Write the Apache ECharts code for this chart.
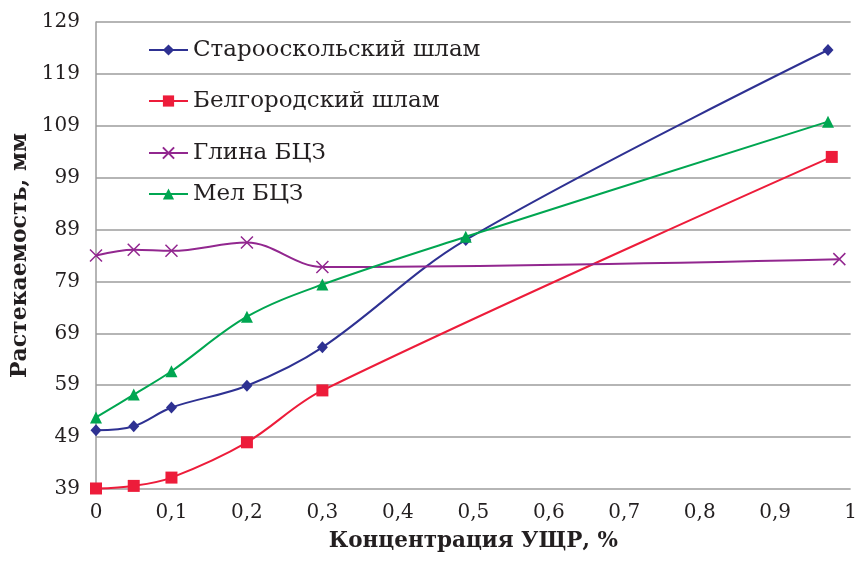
<!DOCTYPE html>
<html>
<head>
<meta charset="utf-8">
<script src="https://cdn.jsdelivr.net/npm/echarts@6/dist/echarts.min.js"></script>
<style>
html,body{margin:0;padding:0;background:#fff;}
#chart{width:860px;height:564px;}
</style>
</head>
<body>
<div id="chart"></div>
<script>
// ---- data ----
const seriesNames = ['Старооскольский шлам', 'Белгородский шлам', 'Глина БЦЗ', 'Мел БЦЗ'];
const xStar = [0, 0.05, 0.1, 0.2, 0.3, 0.49, 0.97];
const yStar = [50.3, 51.1, 54.7, 58.9, 66.3, 87.0, 123.6];
const xBelg = [0, 0.05, 0.1, 0.2, 0.3, 0.975];
const yBelg = [39.1, 39.6, 41.2, 48.0, 58.0, 103.0];
const xGlina = [0, 0.05, 0.1, 0.2, 0.3, 0.985];
const yGlina = [84.0, 85.1, 84.9, 86.5, 81.8, 83.3];
const xMel = [0, 0.05, 0.1, 0.2, 0.3, 0.49, 0.97];
const yMel = [52.8, 57.2, 61.7, 72.2, 78.4, 87.6, 109.8];
const yTicks = [39, 49, 59, 69, 79, 89, 99, 109, 119, 129];
const xTicks = [0, 0.1, 0.2, 0.3, 0.4, 0.5, 0.6, 0.7, 0.8, 0.9, 1];

const colors = ['#2e3192', '#ed1c3a', '#92278f', '#00a651'];
const FONT = 'DejaVu Serif';
const textColor = '#231f20';
const gridColor = '#9d9d9d';

function pairs(xs, ys) { return xs.map((x, i) => [x, ys[i]]); }

const crossPath = 'path://M0,0L10,10M10,0L0,10';

const chart = echarts.init(document.getElementById('chart'), null, {renderer: 'canvas'});

const legendCenters = [48, 99, 151, 192];
const legends = seriesNames.map((n, i) => ({
  data: [n],
  left: 143,
  top: legendCenters[i] - 16,
  orient: 'vertical',
  itemWidth: 39,
  itemHeight: 14,
  selectedMode: false,
  textStyle: {fontFamily: FONT, fontSize: 23, color: textColor, lineHeight: 26}
}));

const option = {
  animation: false,
  backgroundColor: '#fff',
  color: colors,
  legend: legends,
  grid: {left: 96, right: 6, top: 22, bottom: 75, containLabel: false},
  xAxis: {
    type: 'value',
    min: xTicks[0],
    max: xTicks[xTicks.length - 1],
    interval: 0.1,
    name: 'Концентрация УЩР, %',
    nameLocation: 'middle',
    nameGap: 41,
    nameTextStyle: {fontFamily: FONT, fontSize: 21.5, fontWeight: 'bold', color: textColor},
    axisLine: {show: false},
    axisTick: {show: false},
    splitLine: {show: false},
    axisLabel: {
      fontFamily: FONT, fontSize: 20, color: textColor, margin: 14,
      formatter: v => String(Math.round(v * 10) / 10).replace('.', ',')
    }
  },
  yAxis: {
    type: 'value',
    min: yTicks[0],
    max: yTicks[yTicks.length - 1],
    interval: 10,
    name: 'Растекаемость, мм',
    nameLocation: 'middle',
    nameGap: 62,
    nameTextStyle: {fontFamily: FONT, fontSize: 22, fontWeight: 'bold', color: textColor},
    axisLine: {show: true, lineStyle: {color: gridColor, width: 1.5}},
    axisTick: {show: false},
    splitLine: {show: true, lineStyle: {color: gridColor, width: 1.5}},
    axisLabel: {fontFamily: FONT, fontSize: 20, color: textColor, margin: 16}
  },
  series: [
    {
      name: seriesNames[0], type: 'line', smooth: 0.35,
      data: pairs(xStar, yStar),
      symbol: 'diamond', symbolSize: [11, 12],
      lineStyle: {color: colors[0], width: 2},
      itemStyle: {color: colors[0]}
    },
    {
      name: seriesNames[1], type: 'line', smooth: 0.35,
      data: pairs(xBelg, yBelg),
      symbol: 'rect', symbolSize: 12,
      lineStyle: {color: colors[1], width: 2},
      itemStyle: {color: colors[1]}
    },
    {
      name: seriesNames[2], type: 'line', smooth: 0.35,
      data: pairs(xGlina, yGlina),
      symbol: crossPath, symbolSize: 12,
      lineStyle: {color: colors[2], width: 2},
      itemStyle: {color: 'none', borderColor: colors[2], borderWidth: 1.5}
    },
    {
      name: seriesNames[3], type: 'line', smooth: 0.35,
      data: pairs(xMel, yMel),
      symbol: 'triangle', symbolSize: 12,
      lineStyle: {color: colors[3], width: 2},
      itemStyle: {color: colors[3]}
    }
  ]
};
chart.setOption(option);
</script>
</body>
</html>
